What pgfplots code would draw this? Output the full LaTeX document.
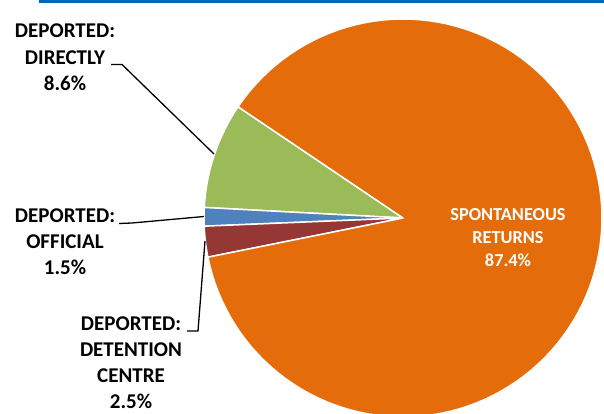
\documentclass[border=0pt]{standalone}
\usepackage{pgfplots}
\pgfplotsset{compat=1.18}
\usepackage{fontspec}
\setmainfont{Carlito}
\definecolor{cOrange}{HTML}{E46C0A}
\definecolor{cGreen}{HTML}{9BBB59}
\definecolor{cBlue}{HTML}{4F81BD}
\definecolor{cRed}{HTML}{953735}
\definecolor{cTop}{HTML}{0068B5}
% slice values (percent), drawn counter-clockwise from the start angle
\def\vGreen{8.6}
\def\vBlue{1.5}
\def\vRed{2.5}
\def\vOrange{87.4}
\def\startangle{146}
\newcommand{\slice}[3]{% start, value, colour
  \pgfmathsetmacro{\a}{#1}%
  \pgfmathsetmacro{\b}{#1+3.6*#2}%
  \addplot[fill=#3, draw=white, line width=1.5pt, line join=round,
    domain=\a:\b, samples=120, variable=\t]
    ({403+199*cos(\t)},{195+199*sin(\t)}) -- (axis cs:403,195) -- cycle;
}
\begin{document}
\begin{tikzpicture}
\useasboundingbox (0,0) rectangle (604pt,413pt);
\begin{axis}[at={(0,0)}, anchor=south west, scale only axis,
  width=604pt, height=413pt, xmin=0, xmax=604, ymin=0, ymax=413,
  hide axis, clip=true]
\pgfmathsetmacro{\sA}{\startangle}
\pgfmathsetmacro{\sB}{\startangle+3.6*\vGreen}
\pgfmathsetmacro{\sC}{\startangle+3.6*(\vGreen+\vBlue)}
\pgfmathsetmacro{\sD}{\startangle+3.6*(\vGreen+\vBlue+\vRed)}
\slice{\sA}{\vGreen}{cGreen}
\slice{\sB}{\vBlue}{cBlue}
\slice{\sC}{\vRed}{cRed}
\slice{\sD}{\vOrange}{cOrange}
% top rule
\fill[cTop] (axis cs:39,410) rectangle (axis cs:604,413);
% leader lines
\draw[black, line width=1.3pt] (axis cs:111,348.5) -- (axis cs:122,348.5) -- (axis cs:214,259);
\draw[black, line width=1.3pt] (axis cs:119,189.5) -- (axis cs:132,190) -- (axis cs:204,196.5);
\draw[black, line width=1.3pt] (axis cs:187,82) -- (axis cs:198,82) -- (axis cs:205,172);
% labels
\tikzset{lab/.style={anchor=base, inner sep=0pt, font=\fontsize{21}{25}\selectfont\bfseries}}
\node[lab] at (axis cs:65,375) {DEPORTED:};
\node[lab] at (axis cs:65,348) {DIRECTLY};
\node[lab] at (axis cs:65,322) {8.6\%};
\node[lab] at (axis cs:65,191) {DEPORTED:};
\node[lab] at (axis cs:65,165) {OFFICIAL};
\node[lab] at (axis cs:65,139) {1.5\%};
\node[lab] at (axis cs:131,83) {DEPORTED:};
\node[lab] at (axis cs:131,57) {DETENTION};
\node[lab] at (axis cs:131,31) {CENTRE};
\node[lab] at (axis cs:131,5) {2.5\%};
\tikzset{labw/.style={anchor=base, inner sep=0pt, text=white, font=\fontsize{18.3}{22}\selectfont\bfseries}}
\node[labw] at (axis cs:508,193) {SPONTANEOUS};
\node[labw] at (axis cs:508,170) {RETURNS};
\node[labw] at (axis cs:508,147) {87.4\%};
\end{axis}
\end{tikzpicture}
\end{document}
